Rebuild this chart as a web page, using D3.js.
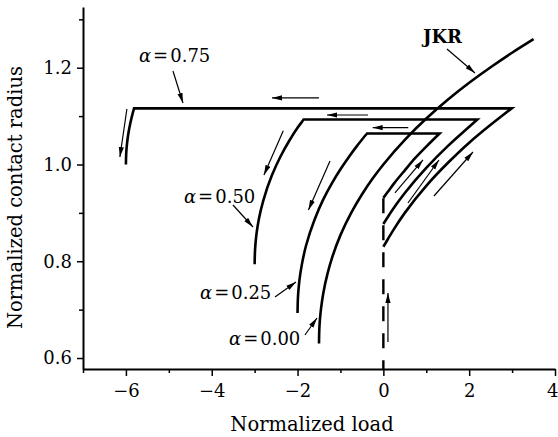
<!DOCTYPE html>
<html><head><meta charset="utf-8">
<script src="https://cdn.jsdelivr.net/npm/d3@7"></script>
<style>body{margin:0;background:#fff}svg{display:block}</style>
</head><body><svg id="c" width="558" height="437"></svg>
<script>
// ---------------- data ----------------
const xDomain = [-7, 4];
const yDomain = [0.5773, 1.3255];
const xTicks = [-6, -4, -2, 0, 2, 4];
const xMinorTicks = [-7, -5, -3, -1, 1, 3];
const yTicks = [0.6, 0.8, 1.0, 1.2];
const yMinorTicks = [0.7, 0.9, 1.1, 1.3];
const xLabel = "Normalized load";
const yLabel = "Normalized contact radius";

// JKR curve (also the alpha = 0.00 branch)
const jkrCurve = [[-1.5,0.630],[-1.49,0.664],[-1.48,0.678],[-1.45,0.704],[-1.4,0.734],[-1.3,0.775],
  [-1.2,0.806],[-1.0,0.854],[-0.75,0.900],[-0.5,0.938],[-0.25,0.971],[0,1.0],[0.5,1.051],[1,1.095],
  [1.5,1.134],[2,1.169],[2.5,1.201],[3,1.231],[3.5,1.259]];

// alpha = 0.75 loop
const load075 = [[0,0.830],[0.1,0.845],[0.25,0.867],[0.5,0.900],[1,0.956],[1.5,1.003],[2,1.045],[2.5,1.082],[2.99,1.116]];
const unload075 = [[-5.81,1.116],[-5.85,1.103],[-5.9,1.084],[-5.95,1.060],[-5.98,1.038],[-5.99,1.027],[-6.0,1.0]];
// alpha = 0.50 loop
const load050 = [[0,0.877],[0.1,0.891],[0.25,0.911],[0.5,0.941],[1,0.993],[1.5,1.038],[2,1.078],[2.19,1.093]];
const unload050 = [[-1.86,1.093],[-1.9,1.088],[-2.0,1.076],[-2.2,1.048],[-2.4,1.016],[-2.6,0.977],[-2.8,0.925],
  [-2.9,0.888],[-2.95,0.861],[-2.97,0.846],[-2.99,0.824],[-3.0,0.794]];
// alpha = 0.25 loop
const load025 = [[0,0.931],[0.1,0.943],[0.25,0.961],[0.5,0.988],[0.75,1.014],[1,1.037],[1.31,1.064]];
const unload025 = [[-0.38,1.064],[-0.4,1.062],[-0.6,1.040],[-0.8,1.016],[-1.0,0.990],[-1.2,0.961],[-1.4,0.928],
  [-1.6,0.887],[-1.8,0.833],[-1.9,0.793],[-1.95,0.765],[-1.97,0.749],[-1.99,0.726],[-2.0,0.693]];

// approach line at zero load
const approachLine = [[0,0.930],[0,0.5773]];

// annotation arrows [x1, y1, x2, y2] in data units
const arrows = [
  [-4.903,1.1933,-4.670,1.1271],
  [-1.501,1.1375,-2.596,1.1375],
  [-0.359,1.1023,-1.314,1.1023],
  [0.580,1.0761,-0.249,1.0761],
  [-5.977,1.1147,-6.140,1.0155],
  [-2.333,1.0699,-2.783,0.9783],
  [-1.244,1.0072,-1.746,0.9060],
  [0.270,0.9411,0.923,1.0093],
  [0.573,0.9204,1.296,1.0093],
  [1.179,0.9349,2.088,1.0258],
  [0.107,0.6331,0.107,0.7344],
  [1.482,1.2387,2.135,1.1891],
  [-3.505,0.9163,-3.039,0.8708],
  [-2.526,0.7261,-2.037,0.7571],
  [-1.827,0.6476,-1.547,0.6827]
];
const alphaValues = ["0.75", "0.50", "0.25", "0.00"];
const alphaLabelPos = [[-5.696,1.2119],[-4.647,0.9205],[-4.274,0.7225],[-3.598,0.6275]];
const jkrLabel = "JKR";
const jkrLabelPos = [0.923,1.2511];

// ---------------- drawing ----------------
const W = 558, H = 437;
const font = "'DejaVu Serif', serif";
const x = d3.scaleLinear().domain(xDomain).range([83, 555]);
const y = d3.scaleLinear().domain(yDomain).range([369, 7]);
const svg = d3.select("#c");
svg.append("rect").attr("width", W).attr("height", H).attr("fill", "#fff");

const defs = svg.append("defs");
defs.append("marker").attr("id", "ah").attr("viewBox", "0 -3 10 6")
  .attr("refX", 10).attr("refY", 0).attr("markerWidth", 10).attr("markerHeight", 6)
  .attr("markerUnits", "userSpaceOnUse").attr("orient", "auto")
  .append("path").attr("d", "M0,-2.6L10,0L0,2.6Z").attr("fill", "#000");

// axes
function styleAxis(g) {
  g.attr("font-family", font).attr("font-size", 18);
  g.select(".domain").attr("stroke", "#000").attr("stroke-width", 2);
  g.selectAll(".tick line").attr("stroke", "#000").attr("stroke-width", 1.5);
  g.selectAll(".tick text").attr("fill", "#000");
}
svg.append("g").attr("transform", `translate(0,${y.range()[0]})`)
  .call(d3.axisBottom(x).tickValues(xMinorTicks).tickFormat("").tickSizeInner(4).tickSizeOuter(0))
  .call(g => { styleAxis(g); g.select(".domain").remove(); });
svg.append("g").attr("transform", `translate(${x.range()[0]},0)`)
  .call(d3.axisLeft(y).tickValues(yMinorTicks).tickFormat("").tickSizeInner(4).tickSizeOuter(0))
  .call(g => { styleAxis(g); g.select(".domain").remove(); });
svg.append("g").attr("transform", `translate(0,${y.range()[0]})`)
  .call(d3.axisBottom(x).tickValues(xTicks).tickFormat(d3.format("d")).tickSizeInner(7).tickSizeOuter(0).tickPadding(8))
  .call(styleAxis)
  .call(g => g.selectAll(".tick text").filter(d => d === xDomain[1])
    .attr("text-anchor", "end").attr("x", 3));
svg.append("g").attr("transform", `translate(${x.range()[0]},0)`)
  .call(d3.axisLeft(y).tickValues(yTicks).tickFormat(d3.format(".1f")).tickSizeInner(6).tickSizeOuter(0).tickPadding(5))
  .call(styleAxis);

// axis titles
svg.append("text").attr("x", 312).attr("y", 431).attr("text-anchor", "middle")
  .attr("font-family", font).attr("font-size", 19.5).text(xLabel);
svg.append("text").attr("transform", "translate(21.7,197.5) rotate(-90)").attr("text-anchor", "middle")
  .attr("font-family", font).attr("font-size", 19.5).text(yLabel);

// curves
const lineMono = d3.line().x(d => x(d[0])).y(d => y(d[1])).curve(d3.curveMonotoneY);
const curveStyle = sel => sel.attr("fill", "none").attr("stroke", "#000").attr("stroke-width", 2.6)
  .attr("stroke-linejoin", "miter").attr("stroke-miterlimit", 20);

svg.append("path").attr("d", lineMono(jkrCurve)).call(curveStyle);
[[load075, unload075], [load050, unload050], [load025, unload025]].forEach(([ld, ul]) => {
  const d = lineMono(ld) + "L" + lineMono(ul).slice(1);
  svg.append("path").attr("d", d).call(curveStyle);
});

// approach (dashed) line
svg.append("path").attr("d", d3.line().x(d => x(d[0])).y(d => y(d[1]))(approachLine))
  .attr("fill", "none").attr("stroke", "#000").attr("stroke-width", 2.4).attr("stroke-dasharray", "15,12");

// arrows
svg.append("g").selectAll("line").data(arrows).join("line")
  .attr("x1", d => x(d[0])).attr("y1", d => y(d[1]))
  .attr("x2", d => x(d[2])).attr("y2", d => y(d[3]))
  .attr("stroke", "#000").attr("stroke-width", 1.2).attr("marker-end", "url(#ah)");

// labels
alphaValues.forEach((v, i) => {
  const t = svg.append("text").attr("x", x(alphaLabelPos[i][0])).attr("y", y(alphaLabelPos[i][1]))
    .attr("font-family", font).attr("font-size", 18);
  t.append("tspan").attr("font-style", "italic").text("α");
  t.append("tspan").attr("dx", 2).text("=");
  t.append("tspan").attr("dx", 2).text(v);
});
svg.append("text").attr("x", x(jkrLabelPos[0])).attr("y", y(jkrLabelPos[1]))
  .attr("font-family", font).attr("font-size", 18).attr("font-weight", "bold").text(jkrLabel);
</script></body></html>
